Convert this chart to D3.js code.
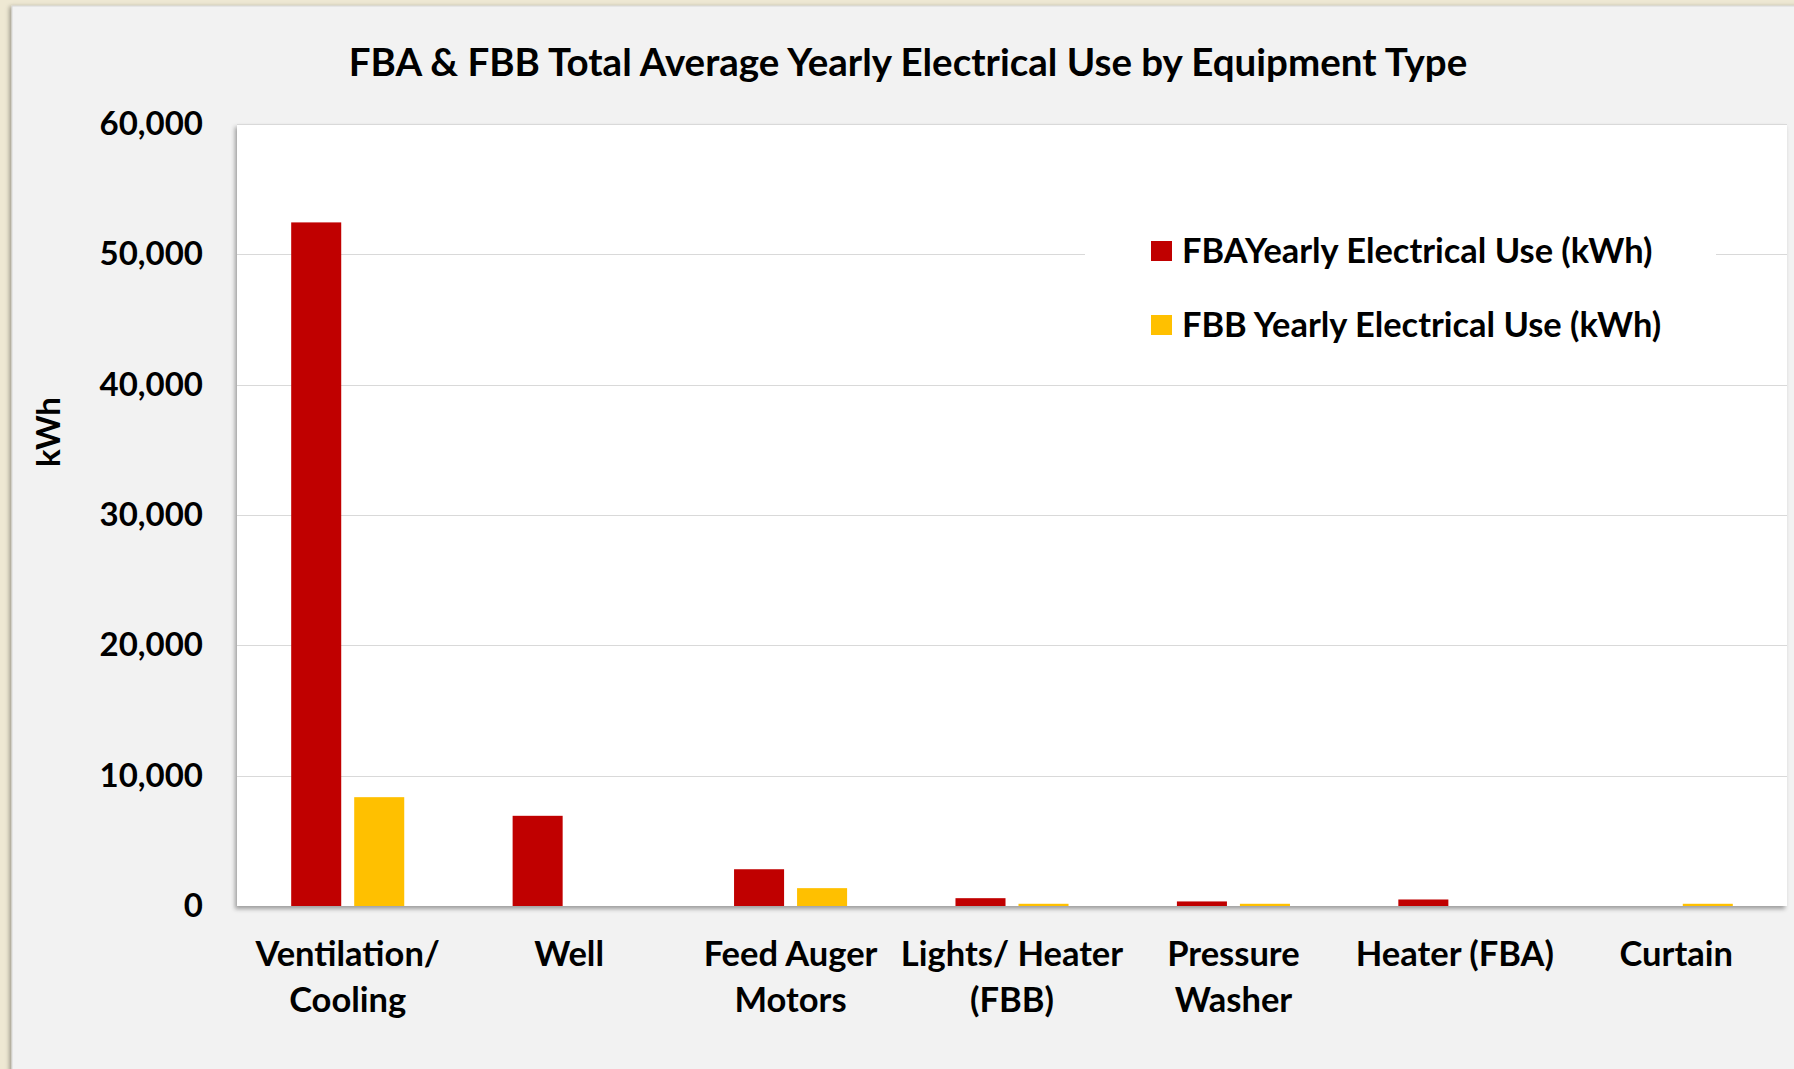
<!DOCTYPE html>
<html>
<head>
<meta charset="utf-8">
<script src="https://cdn.jsdelivr.net/npm/d3@7/dist/d3.min.js"></script>
<style>
  html, body { margin: 0; padding: 0; background: #EEE8D3; }
  svg { display: block; }
  text { font-family: Lato, "Open Sans", sans-serif; font-weight: 700; fill: #000; }
</style>
</head>
<body>
<svg id="chart" width="1794" height="1069"></svg>
<script>
// ---- data ----
const categories = [
  ["Ventilation/", "Cooling"],
  ["Well"],
  ["Feed Auger", "Motors"],
  ["Lights/ Heater", "(FBB)"],
  ["Pressure", "Washer"],
  ["Heater (FBA)"],
  ["Curtain"]
];
const seriesNames = ["FBAYearly Electrical Use (kWh)", "FBB Yearly Electrical Use (kWh)"];
const fbaValues = [52450, 6920, 2820, 600, 350, 500, 0];
const fbbValues = [8350, 0, 1370, 170, 170, 0, 170];
const yTicks = [0, 10000, 20000, 30000, 40000, 50000, 60000];
const titleText = "FBA & FBB Total Average Yearly Electrical Use by Equipment Type";
const yAxisTitle = "kWh";

// ---- layout ----
const W = 1794, H = 1069;
const plot = { left: 237, top: 124, right: 1787, bottom: 906 };
const colors = ["#C00000", "#FFC000"];

const svg = d3.select("#chart");
const defs = svg.append("defs");
const f1 = defs.append("filter").attr("id", "panelShadow")
  .attr("x", "-5%").attr("y", "-5%").attr("width", "110%").attr("height", "110%");
f1.append("feDropShadow").attr("dx", -2).attr("dy", 1).attr("stdDeviation", 2)
  .attr("flood-color", "#000").attr("flood-opacity", 0.35);
const f2 = defs.append("filter").attr("id", "plotShadow")
  .attr("x", "-5%").attr("y", "-5%").attr("width", "110%").attr("height", "110%");
f2.append("feDropShadow").attr("dx", -2).attr("dy", 3).attr("stdDeviation", 2)
  .attr("flood-color", "#000").attr("flood-opacity", 0.35);

svg.append("rect").attr("x", 0).attr("y", 0).attr("width", W).attr("height", H).attr("fill", "#EEE8D3");
svg.append("rect").attr("x", 12).attr("y", 6).attr("width", W + 40).attr("height", H + 40)
  .attr("fill", "#F2F2F2").attr("stroke", "#D8D8D8").attr("stroke-width", 1)
  .attr("filter", "url(#panelShadow)");

svg.append("rect").attr("x", plot.left).attr("y", plot.top)
  .attr("width", plot.right - plot.left).attr("height", plot.bottom - plot.top)
  .attr("fill", "#FFFFFF").attr("filter", "url(#plotShadow)");

// scales
const catKeys = categories.map(c => c.join(" "));
const x0 = d3.scaleBand().domain(catKeys).range([plot.left, plot.right]).padding(0);
const x1 = d3.scaleBand().domain([0, 1]).range([0, x0.bandwidth()])
  .paddingInner(0.206).paddingOuter(0.86);
const y = d3.scaleLinear().domain([0, 60000]).range([plot.bottom, plot.top]);

// gridlines
svg.append("g").selectAll("line").data(yTicks.filter(d => d > 0)).join("line")
  .attr("x1", plot.left).attr("x2", plot.right)
  .attr("y1", d => Math.round(y(d)) + 0.5).attr("y2", d => Math.round(y(d)) + 0.5)
  .attr("stroke", "#D9D9D9").attr("stroke-width", 1.2);

// bars
const rows = catKeys.map((k, i) => ({ key: k, vals: [fbaValues[i], fbbValues[i]] }));
const groups = svg.append("g").selectAll("g").data(rows).join("g")
  .attr("transform", d => `translate(${x0(d.key)},0)`);
groups.selectAll("rect").data(d => d.vals.map((v, s) => ({ v, s })).filter(e => e.v > 0)).join("rect")
  .attr("x", d => x1(d.s)).attr("width", x1.bandwidth())
  .attr("y", d => y(d.v)).attr("height", d => y(0) - y(d.v))
  .attr("fill", d => colors[d.s]);

// legend box (white, hides gridline)
const legend = svg.append("g");
legend.append("rect").attr("x", 1085).attr("y", 200).attr("width", 631).attr("height", 160).attr("fill", "#FFFFFF");
const legY = [251, 325];
seriesNames.forEach((name, i) => {
  legend.append("rect").attr("x", 1151).attr("y", legY[i] - 10).attr("width", 21).attr("height", 20).attr("fill", colors[i]);
  legend.append("text").attr("x", 1182).attr("y", legY[i]).attr("dy", "0.35em")
    .style("font-size", "34.4px").text(name);
});

// y axis
const yAxis = d3.axisLeft(y).tickValues(yTicks).tickSize(0).tickPadding(34).tickFormat(d3.format(","));
const ga = svg.append("g").attr("transform", `translate(${plot.left},0)`).call(yAxis);
ga.select(".domain").remove();
ga.selectAll("text").style("font-size", "33px").style("font-family", "Lato, sans-serif").style("font-weight", 700).attr("fill", "#000");

// x labels
const xl = svg.append("g");
categories.forEach((lines, i) => {
  const cx = x0(catKeys[i]) + x0.bandwidth() / 2;
  lines.forEach((ln, j) => {
    xl.append("text").attr("x", cx).attr("y", 966 + j * 46).attr("text-anchor", "middle")
      .style("font-size", "34.5px").text(ln);
  });
});

// y axis title
svg.append("text").attr("transform", "translate(60,432) rotate(-90)").attr("text-anchor", "middle")
  .style("font-size", "33px").text(yAxisTitle);

// title
svg.append("text").attr("x", 908).attr("y", 76).attr("text-anchor", "middle")
  .style("font-size", "38.5px").text(titleText);
</script>
</body>
</html>
